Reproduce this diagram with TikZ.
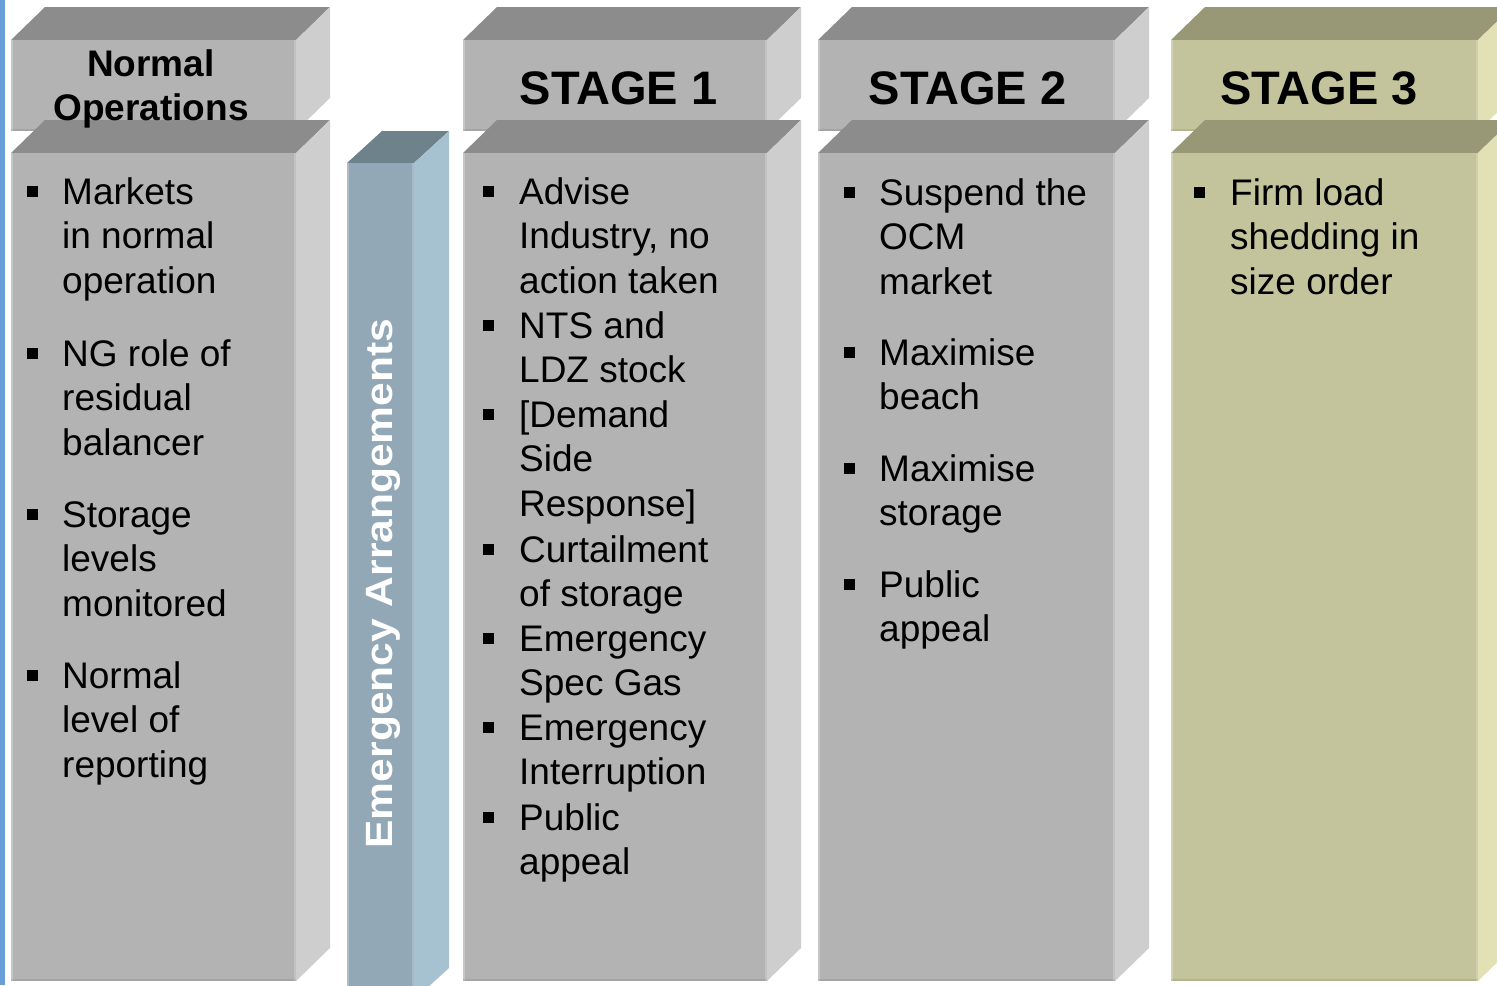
\documentclass[tikz,border=0pt]{standalone}
\usepackage{fontspec}
\setmainfont{Liberation Sans}
\usepackage{graphicx}
\definecolor{gfront}{HTML}{B3B3B3}
\definecolor{gtop}{HTML}{8C8C8C}
\definecolor{gside}{HTML}{CECECE}
\definecolor{bfront}{HTML}{92A8B6}
\definecolor{btop}{HTML}{6E828C}
\definecolor{bside}{HTML}{A6C1CF}
\definecolor{ofront}{HTML}{C3C49C}
\definecolor{otop}{HTML}{989877}
\definecolor{oside}{HTML}{E1E1B5}
\definecolor{leftbar}{HTML}{6A9ED8}
\tikzset{
  bodytext/.style={font=\fontsize{37bp}{44bp}\selectfont, inner sep=0pt, anchor=base west, text=black},
  headtext/.style={font=\bfseries\fontsize{37bp}{44bp}\selectfont, inner sep=0pt, anchor=base, text=black},
  stagetext/.style={font=\bfseries\fontsize{47bp}{50bp}\selectfont, inner sep=0pt, anchor=base, text=black},
  emtext/.style={font=\bfseries\fontsize{38bp}{40bp}\selectfont, inner sep=0pt, anchor=base, text=white, rotate=90},
}
% prism: x1 y1 x2 y2 dx dy front top side
\newcommand\prism[9]{%
  \fill[#8] (#1,#2) -- (#1+#5,#2-#6) -- (#3+#5,#2-#6) -- (#3,#2) -- cycle;
  \fill[#9] (#3,#2) -- (#3+#5,#2-#6) -- (#3+#5,#4-#6) -- (#3,#4) -- cycle;
  \fill[#7] (#1,#2) rectangle (#3,#4);
  \fill[white, opacity=0.25] (#1,#2) rectangle (#1+2,#4);
  \fill[black, opacity=0.08] (#1,#4-2) rectangle (#3,#4);
  \fill[white, opacity=0.2] (#3-2,#2) rectangle (#3,#4);
}
% bullet item: name, bullet x, text x, first baseline y, line skip, lines
\newcommand\bitem[6]{%
  \fill[black] (#2-5.5,#4-18) rectangle (#2+5.5,#4-7);
  \foreach \ln [count=\i from 0] in {#6} {
    \node[bodytext] (#1-\i) at (#3,#4+\i*#5) {\ln};
  }
}
\begin{document}
\begin{tikzpicture}[x=1bp,y=-1bp]
\useasboundingbox (0,0) rectangle (1497,985);
\clip (0,0) rectangle (1497,985);
\fill[white] (0,0) rectangle (1497,985);
\fill[leftbar] (0,0) rectangle (5,985);

% Normal operations
\prism{11}{40}{296}{131}{34}{33}{gfront}{gtop}{gside}
\prism{11}{153}{296}{981}{34}{33}{gfront}{gtop}{gside}
% Emergency
\prism{347}{163}{414}{1000}{35}{32}{bfront}{btop}{bside}
% Stage 1
\prism{463}{40}{767}{131}{34}{33}{gfront}{gtop}{gside}
\prism{463}{153}{767}{981}{34}{33}{gfront}{gtop}{gside}
% Stage 2
\prism{818}{40}{1115}{131}{34}{33}{gfront}{gtop}{gside}
\prism{818}{153}{1115}{981}{34}{33}{gfront}{gtop}{gside}
% Stage 3
\prism{1171}{40}{1478}{131}{34}{33}{ofront}{otop}{oside}
\prism{1171}{153}{1478}{981}{34}{33}{ofront}{otop}{oside}

% headers
\node[headtext] (h0a) at (151,76) {Normal};
\node[headtext] (h0b) at (151,120) {Operations};
\node[stagetext] (h1) at (618.5,104) {STAGE 1};
\node[stagetext] (h2) at (967.5,104) {STAGE 2};
\node[stagetext] (h3) at (1319,104) {STAGE 3};

% emergency label
\node[emtext] (em) at (392,583.5) {\scalebox{1.12}[1]{Emergency Arrangements}};

% Normal column
\bitem{n1}{32}{62}{204}{44.5}{Markets,in normal,operation}
\bitem{n2}{32}{62}{366}{44.5}{NG role of,residual,balancer}
\bitem{n3}{32}{62}{527}{44.5}{Storage,levels,monitored}
\bitem{n4}{32}{62}{688}{44.5}{Normal,level of,reporting}

% Stage 1
\bitem{a1}{488}{519}{204}{44.7}{Advise,{Industry, no},action taken}
\bitem{a2}{488}{519}{338}{44.7}{NTS and,LDZ stock}
\bitem{a3}{488}{519}{427}{44.7}{{[Demand},Side,{Response]}}
\bitem{a4}{488}{519}{562}{44.7}{Curtailment,of storage}
\bitem{a5}{488}{519}{651}{44.7}{Emergency,Spec Gas}
\bitem{a6}{488}{519}{740}{44.7}{Emergency,Interruption}
\bitem{a7}{488}{519}{830}{44.7}{Public,appeal}

% Stage 2
\bitem{b1}{849}{879}{205}{44.5}{Suspend the,OCM,market}
\bitem{b2}{849}{879}{365}{44.5}{Maximise,beach}
\bitem{b3}{849}{879}{481}{44.5}{Maximise,storage}
\bitem{b4}{849}{879}{597}{44.5}{Public,appeal}

% Stage 3
\bitem{c1}{1199}{1230}{205}{44.5}{Firm load,shedding in,size order}
\end{tikzpicture}
\end{document}
